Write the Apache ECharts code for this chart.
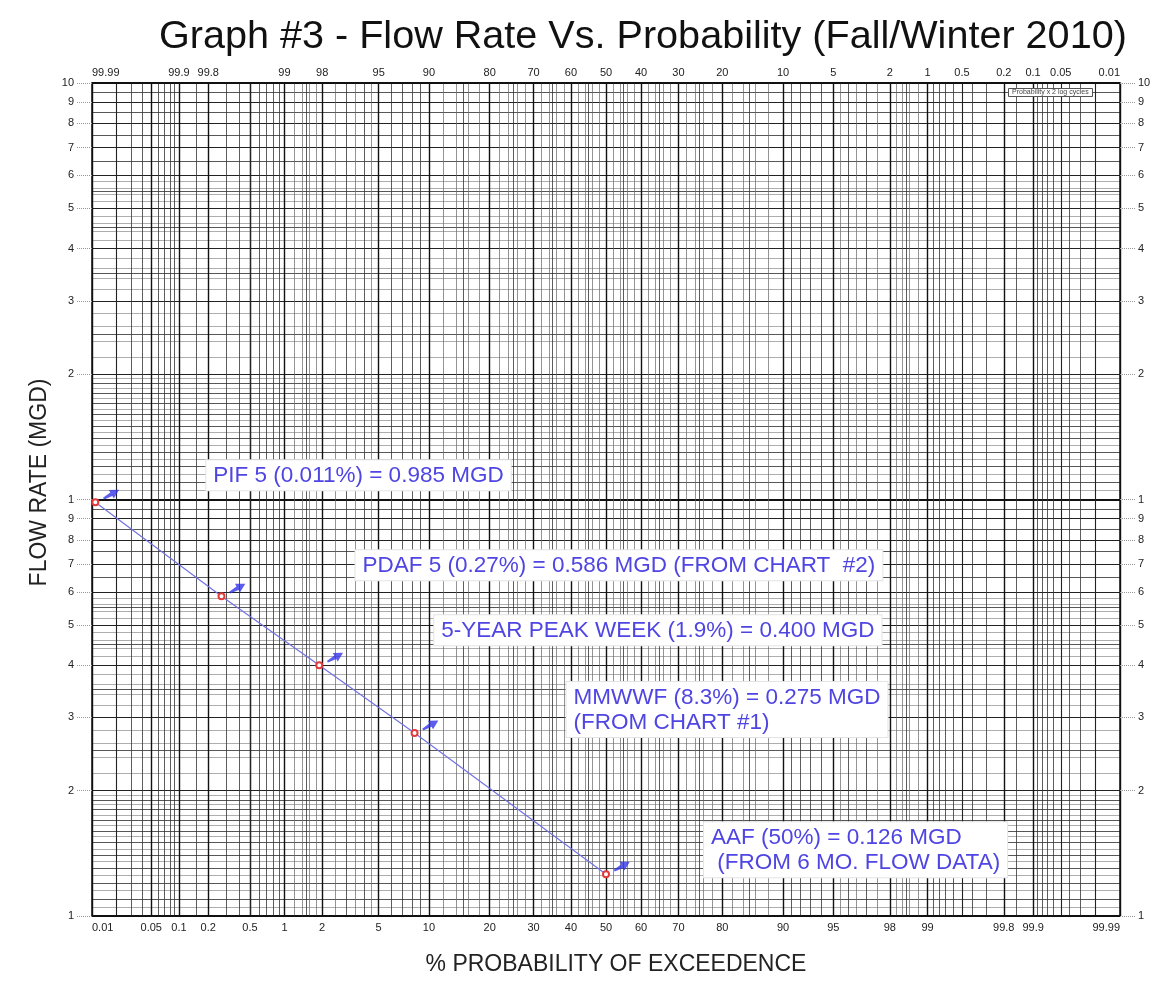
<!DOCTYPE html>
<html>
<head>
<meta charset="utf-8">
<script src="https://cdn.jsdelivr.net/npm/echarts@6/dist/echarts.min.js"></script>
<style>
  html, body { margin: 0; padding: 0; background: #fff; }
  #chart { width: 1165px; height: 981px; }
</style>
</head>
<body>
<div id="chart"></div>
<script>
// ---- Axis labels (percent) ----
const bottomLabels = [0.01, 0.05, 0.1, 0.2, 0.5, 1, 2, 5, 10, 20, 30, 40, 50, 60, 70, 80, 90, 95, 98, 99, 99.8, 99.9, 99.99];
const topLabels = [99.99, 99.9, 99.8, 99, 98, 95, 90, 80, 70, 60, 50, 40, 30, 20, 10, 5, 2, 1, 0.5, 0.2, 0.1, 0.05, 0.01];

// ---- Probability rulings (percent exceedence) ----
const extraMajorProb = [0.02, 0.5, 99.5, 99.95, 99.98];
const minorProb = [0.03, 0.04, 0.06, 0.07, 0.08, 0.09, 0.15, 0.3, 0.4, 0.6, 0.7, 0.8, 0.9, 1.5, 3, 4, 6, 7, 8, 9, 15, 25, 35, 45,
                   55, 65, 75, 85, 91, 92, 93, 94, 96, 97, 98.5, 99.1, 99.2, 99.3, 99.4, 99.6, 99.7, 99.85, 99.91, 99.92, 99.93, 99.94, 99.96, 99.97];
const fineProb = [1.2, 1.4, 1.6, 1.8, 2.5, 3.5, 4.5, 12, 14, 16, 18, 22, 24, 26, 28, 32, 34, 36, 38, 42, 44, 46, 48,
                  52, 54, 56, 58, 62, 64, 66, 68, 72, 74, 76, 78, 82, 84, 86, 88, 95.5, 96.5, 97.5, 98.2, 98.4, 98.6, 98.8];

// ---- Flow rulings (MGD), two log cycles ----
const flowMajor = [0.1, 0.2, 0.3, 0.4, 0.5, 0.6, 0.7, 0.8, 0.9, 1, 2, 3, 4, 5, 6, 7, 8, 9, 10];
const flowMinor = [0.11, 0.12, 0.13, 0.14, 0.15, 0.16, 0.17, 0.18, 0.19, 0.25, 0.35, 0.45, 0.55, 0.65, 0.75, 0.85, 0.95,
                   1.1, 1.2, 1.3, 1.4, 1.5, 1.6, 1.7, 1.8, 1.9, 2.5, 3.5, 4.5, 5.5, 6.5, 7.5, 8.5, 9.5];
const flowFine = [0.105, 0.115, 0.125, 0.135, 0.145, 0.155, 0.165, 0.175, 0.185, 0.195, 0.22, 0.24, 0.26, 0.28, 0.32, 0.34, 0.36, 0.38,
                  0.42, 0.44, 0.46, 0.48, 0.52, 0.54, 0.56, 0.58,
                  1.05, 1.15, 1.25, 1.35, 1.45, 1.55, 1.65, 1.75, 1.85, 1.95, 2.2, 2.4, 2.6, 2.8, 3.2, 3.4, 3.6, 3.8,
                  4.2, 4.4, 4.6, 4.8, 5.2, 5.4, 5.6, 5.8];

// ---- Design flow points ----
const pointNames = ['PIF 5', 'PDAF 5', '5-YEAR PEAK WEEK', 'MMWWF', 'AAF'];
const pointProb = [0.011, 0.27, 1.9, 8.3, 50];          // % probability of exceedence
const pointFlow = [0.985, 0.586, 0.400, 0.275, 0.126];  // MGD
const pointNotes = ['', ' (FROM CHART  #2)', '', '\n(FROM CHART #1)', '\n (FROM 6 MO. FLOW DATA)'];

// Label box placement relative to each point (px)
const labelOffsets = [[115, -38], [138, -42], [119, -46], [156, -47], [102, -48]];

// Inverse of the standard normal CDF (Acklam's rational approximation)
function probit(p) {
  const a = [-3.969683028665376e+01, 2.209460984245205e+02, -2.759285104469687e+02, 1.383577518672690e+02, -3.066479806614716e+01, 2.506628277459239e+00];
  const b = [-5.447609879822406e+01, 1.615858368580409e+02, -1.556989798598866e+02, 6.680131188771972e+01, -1.328068155288572e+01];
  const c = [-7.784894002430293e-03, -3.223964580411365e-01, -2.400758277161838e+00, -2.549732539343734e+00, 4.374664141464968e+00, 2.938163982698783e+00];
  const d = [7.784695709041462e-03, 3.224671290700398e-01, 2.445134137142996e+00, 3.754408661907416e+00];
  const pl = 0.02425;
  let q, r;
  if (p < pl) {
    q = Math.sqrt(-2 * Math.log(p));
    return (((((c[0]*q+c[1])*q+c[2])*q+c[3])*q+c[4])*q+c[5]) / ((((d[0]*q+d[1])*q+d[2])*q+d[3])*q+1);
  }
  if (p > 1 - pl) {
    q = Math.sqrt(-2 * Math.log(1 - p));
    return -(((((c[0]*q+c[1])*q+c[2])*q+c[3])*q+c[4])*q+c[5]) / ((((d[0]*q+d[1])*q+d[2])*q+d[3])*q+1);
  }
  q = p - 0.5; r = q * q;
  return (((((a[0]*r+a[1])*r+a[2])*r+a[3])*r+a[4])*r+a[5])*q / (((((b[0]*r+b[1])*r+b[2])*r+b[3])*r+b[4])*r+1);
}
const zOf = pct => probit(pct / 100);
const X_MIN = zOf(0.01) - 1e-9;
const X_MAX = zOf(99.99) + 1e-9;
const Y_MIN = -1 - 1e-9;
const Y_MAX = 1 + 1e-9;

const bottomZ = bottomLabels.map(zOf);
const topZ = topLabels.map(t => zOf(100 - t));
const lookup = (zs, labels) => v => {
  for (let i = 0; i < zs.length; i++) if (Math.abs(zs[i] - v) < 1e-6) return String(labels[i]);
  return '';
};
const flowLabel = v => {
  const q = Math.pow(10, v);
  if (Math.abs(q - 10) < 1e-6) return '10';
  const mag = Math.pow(10, Math.floor(v + 1e-9));
  return String(Math.round(q / mag));
};

const FONT = 'Arial, "Liberation Sans", sans-serif';
const tickFont = { fontFamily: FONT, fontSize: 11, color: '#222' };

// Hidden axis that only carries a set of rulings
function rulingX(values, color, width) {
  return {
    type: 'value', min: X_MIN, max: X_MAX, position: 'bottom',
    axisLine: { show: false }, axisLabel: { show: false },
    axisTick: { show: false, customValues: values.map(zOf) },
    splitLine: { show: true, lineStyle: { color: color, width: width } }
  };
}
function rulingY(values, color, width) {
  return {
    type: 'value', min: Y_MIN, max: Y_MAX, position: 'left',
    axisLine: { show: false }, axisLabel: { show: false },
    axisTick: { show: false, customValues: values.map(Math.log10) },
    splitLine: { show: true, lineStyle: { color: color, width: width } }
  };
}

const points = pointProb.map((p, i) => ({
  value: [zOf(p), Math.log10(pointFlow[i])],
  label: { position: labelOffsets[i] }
}));

const chart = echarts.init(document.getElementById('chart'), null, { renderer: 'canvas' });
chart.setOption({
  backgroundColor: '#fff',
  animation: false,
  title: [
    {
      text: 'Graph #3 - Flow Rate Vs. Probability (Fall/Winter 2010)',
      left: 154, top: 12,
      textStyle: { fontFamily: FONT, fontSize: 39.6, fontWeight: 'normal', color: '#111' }
    },
    {
      text: 'Probability x 2 log cycles',
      left: 1008, top: 88,
      padding: [1, 4],
      borderColor: '#555', borderWidth: 1, backgroundColor: '#fff',
      textStyle: { fontFamily: FONT, fontSize: 7, fontWeight: 'normal', color: '#444' }
    }
  ],
  grid: { left: 92, right: 45, top: 83, bottom: 61, containLabel: false },
  xAxis: [
    {
      type: 'value', min: X_MIN, max: X_MAX, position: 'bottom',
      name: '% PROBABILITY OF EXCEEDENCE', nameLocation: 'middle', nameGap: 37,
      nameTextStyle: { fontFamily: FONT, fontSize: 23, color: '#222', padding: [0, 0, 0, 20] },
      axisLine: { show: true, onZero: false, lineStyle: { color: '#111', width: 1.5 } },
      axisTick: { show: false, customValues: bottomZ },
      axisLabel: Object.assign({ customValues: bottomZ, formatter: lookup(bottomZ, bottomLabels), margin: 6,
                                 showMinLabel: true, showMaxLabel: true, alignMinLabel: 'left', alignMaxLabel: 'right' }, tickFont),
      splitLine: { show: true, lineStyle: { color: '#111', width: 1.4 } }
    },
    {
      type: 'value', min: X_MIN, max: X_MAX, position: 'top',
      axisLine: { show: true, onZero: false, lineStyle: { color: '#111', width: 1.5 } },
      axisTick: { show: false, customValues: topZ },
      axisLabel: Object.assign({ customValues: topZ, formatter: lookup(topZ, topLabels), margin: 5,
                                 showMinLabel: true, showMaxLabel: true, alignMinLabel: 'left', alignMaxLabel: 'right' }, tickFont),
      splitLine: { show: false }
    },
    rulingX(extraMajorProb, '#222', 1.1),
    rulingX(minorProb, '#333', 0.8),
    rulingX(fineProb, '#666', 0.7)
  ],
  yAxis: [
    {
      type: 'value', min: Y_MIN, max: Y_MAX, position: 'left',
      name: 'FLOW RATE (MGD)', nameLocation: 'middle', nameGap: 36, nameRotate: 90,
      nameTextStyle: { fontFamily: FONT, fontSize: 23, color: '#222', padding: [0, 0, 0, 34] },
      axisLine: { show: true, onZero: false, lineStyle: { color: '#111', width: 1.5 } },
      axisTick: { show: true, inside: false, length: 16, customValues: flowMajor.map(Math.log10),
                  lineStyle: { color: '#999', type: 'dotted', width: 1 } },
      axisLabel: Object.assign({ customValues: flowMajor.map(Math.log10), formatter: flowLabel, margin: 18,
                                 showMinLabel: true, showMaxLabel: true }, tickFont),
      splitLine: { show: true, lineStyle: { color: '#222', width: 1 } }
    },
    {
      type: 'value', min: Y_MIN, max: Y_MAX, position: 'right',
      axisLine: { show: true, onZero: false, lineStyle: { color: '#111', width: 1.5 } },
      axisTick: { show: true, inside: false, length: 16, customValues: flowMajor.map(Math.log10),
                  lineStyle: { color: '#999', type: 'dotted', width: 1 } },
      axisLabel: Object.assign({ customValues: flowMajor.map(Math.log10), formatter: flowLabel, margin: 18,
                                 showMinLabel: true, showMaxLabel: true }, tickFont),
      splitLine: { show: false }
    },
    rulingY([0.1, 1, 10], '#111', 2),
    rulingY(flowMinor, '#444', 0.9),
    rulingY(flowFine, '#999', 0.8)
  ],
  series: [
    {
      name: 'Design flows',
      type: 'line',
      xAxisIndex: 0, yAxisIndex: 0,
      data: points,
      z: 10,
      lineStyle: { color: '#7373e6', width: 1.2 },
      symbol: 'emptyCircle', symbolSize: 6,
      itemStyle: { color: '#e23b3b', borderWidth: 1.2 },
      label: {
        show: true,
        formatter: params => {
          const i = params.dataIndex;
          const main = pointNames[i] + ' (' + pointProb[i] + '%) = ' + pointFlow[i].toFixed(3) + ' MGD';
          return main + pointNotes[i];
        },
        align: 'left', verticalAlign: 'top',
        fontFamily: FONT, fontSize: 22.5, lineHeight: 25,
        color: '#4f45e2', backgroundColor: '#fff', borderColor: '#e4e4e4', borderWidth: 1,
        padding: [3, 7, 2, 7]
      }
    },
    {
      name: 'Pointers',
      type: 'scatter',
      xAxisIndex: 0, yAxisIndex: 0,
      data: pointProb.map((p, i) => [zOf(p), Math.log10(pointFlow[i])]),
      z: 11,
      symbol: 'path://M0,4 L9,3 L9,0 L18,5 L9,10 L9,7 L0,6 Z',
      symbolSize: [18, 10], symbolRotate: 30, symbolOffset: [16, -8],
      itemStyle: { color: '#3535e8' },
      silent: true
    }
  ]
});
</script>
</body>
</html>
